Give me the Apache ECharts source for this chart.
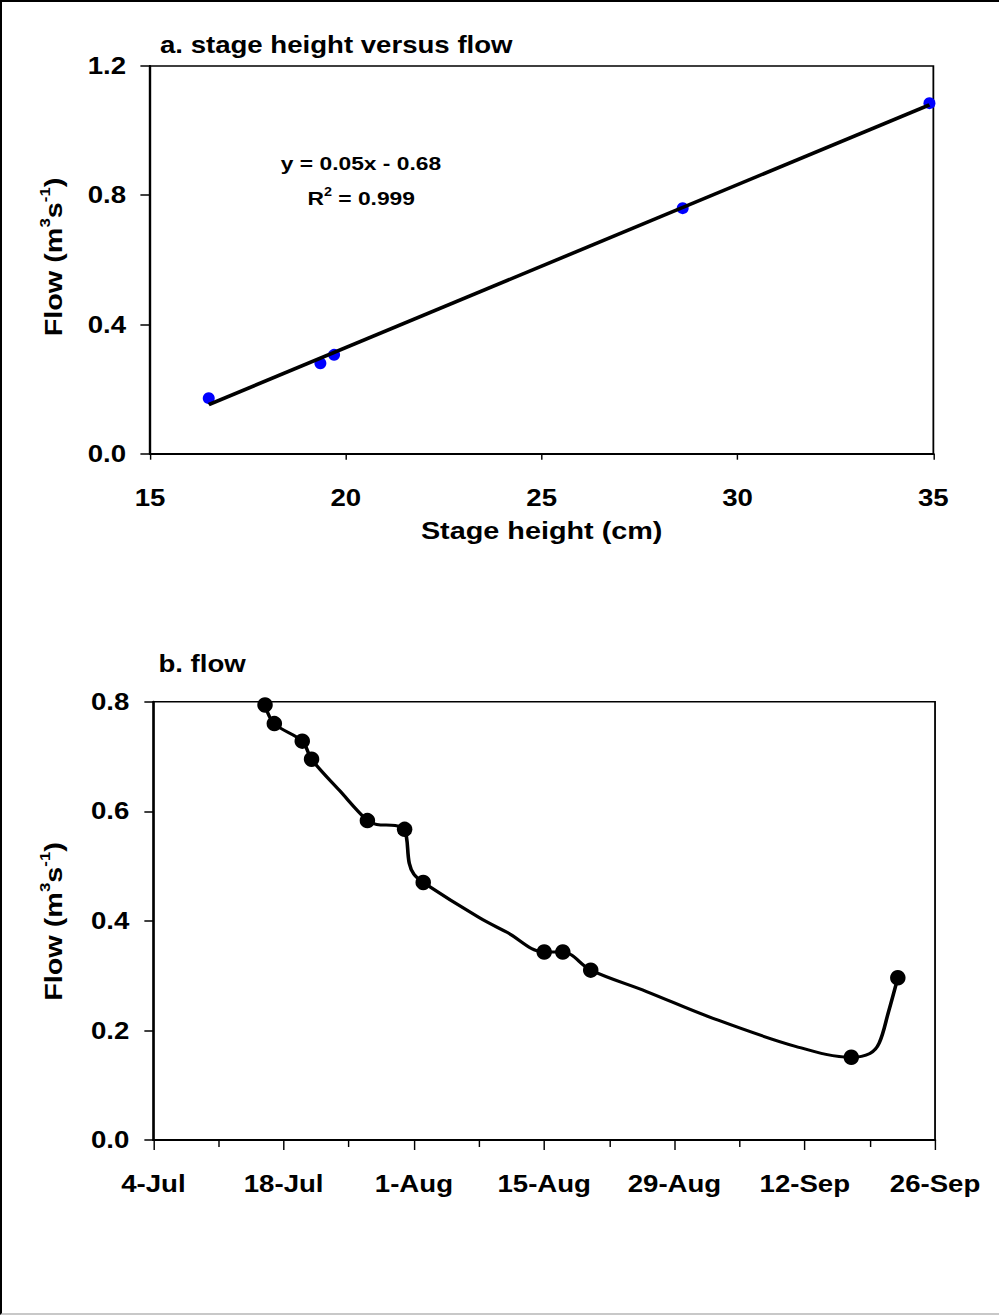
<!DOCTYPE html>
<html>
<head>
<meta charset="utf-8">
<title>Stage height and flow</title>
<script src="https://cdn.jsdelivr.net/npm/echarts@6/dist/echarts.min.js"></script>
<style>
  html, body { margin: 0; padding: 0; background: #fff; }
  #page {
    position: absolute; left: 0; top: 0; width: 999px; height: 1315px;
    box-sizing: border-box;
    border-left: 2px solid #000; border-top: 2px solid #000; border-bottom: 2px solid #c8c8c8;
  }
  /* the figure uses wide lettering: draw at 1/1.2 width and stretch back */
  #chart {
    position: absolute; left: 0; top: 0; width: 832.5px; height: 1315px;
    transform: scaleX(1.2); transform-origin: 0 0;
  }
</style>
</head>
<body>
<div id="page"></div>
<div id="chart"></div>
<script>
// ---- panel a: rating curve, stage height (cm) vs measured flow (m3/s)
const stageHeight = [16.5, 19.35, 19.7, 28.6, 34.9];
const stageFlow   = [0.172, 0.280, 0.306, 0.760, 1.085];

// ---- panel b: flow on gauging days (markers) and the continuous record (line)
const gaugingDates = ['2005-07-16', '2005-07-17', '2005-07-20', '2005-07-21', '2005-07-27', '2005-07-31',
                      '2005-08-02', '2005-08-15', '2005-08-17', '2005-08-20', '2005-09-17', '2005-09-22'];
const gaugingFlow  = [0.794, 0.760, 0.728, 0.695, 0.583, 0.567,
                      0.470, 0.343, 0.343, 0.310, 0.151, 0.296];

const recordDates = ['2005-07-16', '2005-07-17', '2005-07-20', '2005-07-21', '2005-07-24', '2005-07-27',
                     '2005-07-28', '2005-07-30', '2005-07-31', '2005-07-31T12', '2005-08-01', '2005-08-02',
                     '2005-08-08', '2005-08-11', '2005-08-15', '2005-08-17', '2005-08-20', '2005-08-26',
                     '2005-09-02', '2005-09-11', '2005-09-17', '2005-09-19', '2005-09-20', '2005-09-21',
                     '2005-09-22'];
const recordFlow  = [0.794, 0.760, 0.728, 0.695, 0.638, 0.583,
                     0.576, 0.574, 0.567, 0.505, 0.485, 0.470,
                     0.406, 0.379, 0.343, 0.343, 0.310, 0.271,
                     0.223, 0.171, 0.151, 0.158, 0.177, 0.234,
                     0.296];

// date axis starts on 4 July; ticks every 7 days, labels every 14
const dateAxisStart = '2005-07-04';
const dateTickLabels = ['4-Jul', '18-Jul', '1-Aug', '15-Aug', '29-Aug', '12-Sep', '26-Sep'];

const SX = 1.2;                 // horizontal stretch applied by CSS
const W = 999 / SX;
const FONT = '"Liberation Sans", Arial, Helvetica, sans-serif';

function toUTC(s) {
  const [d, t] = s.split('T');
  const [y, m, dd] = d.split('-').map(Number);
  const h = t ? Number(t) : 0;
  return Date.UTC(y, m - 1, dd, h);
}
const t0 = toUTC(dateAxisStart);
const dayOf = s => (toUTC(s) - t0) / 864e5;

// least-squares line through the rating points
function linearFit(xs, ys) {
  const n = xs.length;
  const mx = xs.reduce((a, b) => a + b, 0) / n;
  const my = ys.reduce((a, b) => a + b, 0) / n;
  let sxy = 0, sxx = 0, syy = 0;
  for (let i = 0; i < n; i++) {
    sxy += (xs[i] - mx) * (ys[i] - my);
    sxx += (xs[i] - mx) ** 2;
    syy += (ys[i] - my) ** 2;
  }
  const slope = sxy / sxx;
  return { slope, intercept: my - slope * mx, r2: (sxy * sxy) / (sxx * syy) };
}
const fit = linearFit(stageHeight, stageFlow);
const xLo = Math.min(...stageHeight), xHi = Math.max(...stageHeight);
const trend = [[xLo, fit.intercept + fit.slope * xLo], [xHi, fit.intercept + fit.slope * xHi]];
const eqText = 'y = ' + fit.slope.toFixed(2) + 'x ' + (fit.intercept < 0 ? '- ' : '+ ') + Math.abs(fit.intercept).toFixed(2);
const r2Text = fit.r2.toFixed(3);

const label23 = { color: '#000', fontFamily: FONT, fontWeight: 'bold', fontSize: 23 };
const axisLine = { show: true, onZero: false, lineStyle: { color: '#000', width: 2 } };

function supRich(main, sup, lh) {
  return {
    t: { fontFamily: FONT, fontWeight: 'bold', fontSize: main, lineHeight: lh, verticalAlign: 'bottom', fill: '#000' },
    s: { fontFamily: FONT, fontWeight: 'bold', fontSize: sup, lineHeight: sup, verticalAlign: 'top', fill: '#000' }
  };
}

function flowName(cx, cy) {
  return {
    type: 'text', x: cx, y: cy, rotation: Math.PI / 2, scaleX: SX, scaleY: 1 / SX,
    style: {
      text: '{t|Flow (m}{s|3}{t|s}{s|-1}{t|)}',
      rich: supRich(24, 14, 28),
      align: 'center', verticalAlign: 'middle', textAlign: 'center', textVerticalAlign: 'middle'
    }
  };
}

const chart = echarts.init(document.getElementById('chart'), null, { renderer: 'svg', width: W, height: 1315 });

chart.setOption({
  animation: false,
  backgroundColor: 'transparent',
  grid: [
    { left: 125, top: 66, width: 652.8, height: 387.7, show: true, borderColor: '#000', borderWidth: 1.5,
      containLabel: false, outerBoundsMode: 'none' },
    { left: 127.8, top: 701.7, width: 651.4, height: 438.3, show: true, borderColor: '#000', borderWidth: 1.5,
      containLabel: false, outerBoundsMode: 'none' }
  ],
  xAxis: [
    {
      gridIndex: 0, type: 'value', min: 15, max: 35, interval: 5,
      axisLine, splitLine: { show: false },
      axisTick: { show: true, inside: false, length: 6, lineStyle: { color: '#000', width: 1.2 } },
      axisLabel: { ...label23, margin: 33, showMinLabel: true, showMaxLabel: true },
      name: 'Stage height (cm)', nameLocation: 'middle', nameGap: 65,
      nameTextStyle: { color: '#000', fontFamily: FONT, fontWeight: 'bold', fontSize: 24 }
    },
    {
      gridIndex: 1, type: 'value', min: 0, max: 84, interval: 14,
      axisLine, splitLine: { show: false },
      axisTick: { show: true, inside: false, length: 10, lineStyle: { color: '#000', width: 1.2 } },
      minorTick: { show: true, splitNumber: 2, length: 7, lineStyle: { color: '#000', width: 1.2 } },
      axisLabel: { ...label23, margin: 32, showMinLabel: true, showMaxLabel: true,
        formatter: v => dateTickLabels[Math.round(v / 14)] || '' }
    }
  ],
  yAxis: [
    {
      gridIndex: 0, type: 'value', min: 0, max: 1.2, interval: 0.4,
      axisLine, splitLine: { show: false },
      axisTick: { show: true, inside: false, length: 8, lineStyle: { color: '#000', width: 1.5 } },
      axisLabel: { ...label23, margin: 20, padding: [7, 0, 0, 0], formatter: v => v.toFixed(1) }
    },
    {
      gridIndex: 1, type: 'value', min: 0, max: 0.8, interval: 0.2,
      axisLine, splitLine: { show: false },
      axisTick: { show: true, inside: false, length: 7.5, lineStyle: { color: '#000', width: 1.5 } },
      axisLabel: { ...label23, margin: 20, padding: [6, 0, 0, 0], formatter: v => v.toFixed(1) }
    }
  ],
  series: [
    {
      name: 'gauging', type: 'scatter', xAxisIndex: 0, yAxisIndex: 0, z: 2,
      symbol: 'circle', symbolSize: [12 / SX, 12],
      itemStyle: { color: '#0000ff', opacity: 1 },
      data: stageHeight.map((h, i) => [h, stageFlow[i]])
    },
    {
      name: 'linear fit', type: 'line', xAxisIndex: 0, yAxisIndex: 0, z: 3,
      showSymbol: false, symbol: 'none',
      lineStyle: { color: '#000', width: 3.5 },
      data: trend
    },
    {
      name: 'flow record', type: 'line', xAxisIndex: 1, yAxisIndex: 1, z: 3,
      showSymbol: false, symbol: 'none', smooth: 0.35,
      lineStyle: { color: '#000', width: 3 },
      data: recordDates.map((d, i) => [dayOf(d), recordFlow[i]])
    },
    {
      name: 'gauged flow', type: 'scatter', xAxisIndex: 1, yAxisIndex: 1, z: 4,
      symbol: 'circle', symbolSize: [15.5 / SX, 15.5],
      itemStyle: { color: '#000', opacity: 1 },
      data: gaugingDates.map((d, i) => [dayOf(d), gaugingFlow[i]])
    }
  ],
  graphic: [
    { type: 'text', x: 133.3, y: 45.2,
      style: { text: 'a. stage height versus flow', fontFamily: FONT, fontWeight: 'bold', fontSize: 23, fill: '#000',
               align: 'left', verticalAlign: 'middle', textAlign: 'left', textVerticalAlign: 'middle' } },
    { type: 'text', x: 132, y: 664.2,
      style: { text: 'b. flow', fontFamily: FONT, fontWeight: 'bold', fontSize: 23, fill: '#000',
               align: 'left', verticalAlign: 'middle', textAlign: 'left', textVerticalAlign: 'middle' } },
    { type: 'text', x: 300.8, y: 163.7,
      style: { text: eqText, fontFamily: FONT, fontWeight: 'bold', fontSize: 19, fill: '#000',
               align: 'center', verticalAlign: 'middle', textAlign: 'center', textVerticalAlign: 'middle' } },
    { type: 'text', x: 301, y: 196.7,
      style: { text: '{t|R}{s|2}{t| = ' + r2Text + '}', rich: supRich(19, 12, 22),
               align: 'center', verticalAlign: 'middle', textAlign: 'center', textVerticalAlign: 'middle' } },
    flowName(43.3, 257),
    flowName(43.3, 921.5)
  ]
});
</script>
</body>
</html>
